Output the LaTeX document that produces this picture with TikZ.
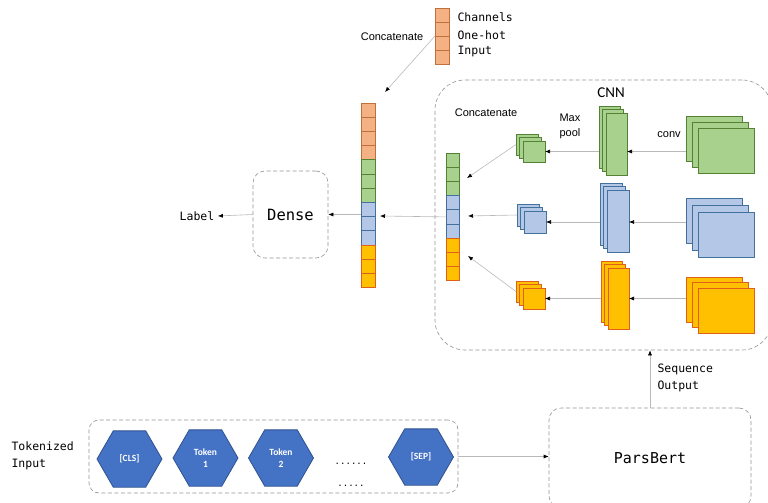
\documentclass[tikz,border=0pt]{standalone}
\usepackage{fontspec}
\setmainfont{Liberation Sans}
\setmonofont{DejaVu Sans Mono}
\newfontfamily\calfont{Carlito}
\usetikzlibrary{arrows,shapes.geometric}
\usepgflibrary{arrows.meta}
\definecolor{orfill}{HTML}{F4B183}
\definecolor{orline}{HTML}{C0703A}
\definecolor{grfill}{HTML}{A9D18E}
\definecolor{grline}{HTML}{548235}
\definecolor{blfill}{HTML}{B4C7E7}
\definecolor{blline}{HTML}{41719C}
\definecolor{yefill}{HTML}{FFC000}
\definecolor{yeline}{HTML}{E0601A}
\definecolor{hexfill}{HTML}{4472C4}
\definecolor{hexline}{HTML}{2F528F}
% three stacked feature maps: name, x, y, w, h, dx, dy, colours
\newcommand{\fmap}[8]{\foreach \j in {1,2,3}{\node[fm,#8,minimum width=#4,minimum height=#5,anchor=north west] (#1-\j) at ({#2+(\j-1)*#6},{#3+(\j-1)*#7}) {};}}

\begin{document}
\begin{tikzpicture}[x=1pt,y=-1pt,>={Latex[color=black,length=5pt,width=4pt]},
    cell/.style={draw,line width=0.8pt,minimum width=14,minimum height=14.2,inner sep=0,outer sep=0},
    fm/.style={draw,line width=0.8pt,inner sep=0,outer sep=0},
    dbox/.style={draw=gray!85,dash pattern=on 4pt off 2.5pt,rounded corners=12,line width=0.6pt,inner sep=0},
    arr/.style={draw=gray!55,line width=0.6pt},
    mono/.style={font=\ttfamily\fontsize{11.5}{17}\selectfont},
    sans/.style={font=\fontsize{11}{15}\selectfont},
    hex/.style={regular polygon,regular polygon sides=6,minimum size=65,inner sep=0,fill=hexfill,draw=hexline,line width=0.8pt,text=white,align=center,font=\calfont\bfseries\fontsize{9.5}{11.5}\selectfont}]
        \clip (0,0) rectangle (768,503);
        %boxes
        \node[dbox,rounded corners=30,minimum width=337,minimum height=270] (cnn) at (603.5,215) {};
        \node[dbox,minimum width=75,minimum height=87,font=\ttfamily\fontsize{15.5}{18}\selectfont] (dense) at (290.5,214.5) {Dense};
        \node[dbox,rounded corners=10,minimum width=369,minimum height=73] (tokbox) at (273.5,456.5) {};
        \node[dbox,minimum width=202,minimum height=100,font=\ttfamily\fontsize{15}{18}\selectfont] (pars) at (650,458) {ParsBert};
        %vectors
        \foreach \i in {0,...,3} \node[cell,fill=orfill,draw=orline,minimum height=14] (t\i) at (442,{15+14*\i}) {};
        \foreach \i in {0,...,3} \node[cell,fill=orfill,draw=orline] (m\i) at (368,{110.1+14.2*\i}) {};
        \foreach \i in {4,5,6} \node[cell,fill=grfill,draw=grline] (m\i) at (368,{110.1+14.2*\i}) {};
        \foreach \i in {7,8,9} \node[cell,fill=blfill,draw=blline] (m\i) at (368,{110.1+14.2*\i}) {};
        \foreach \i in {10,11,12} \node[cell,fill=yefill,draw=yeline] (m\i) at (368,{110.1+14.2*\i}) {};
        \foreach \i in {0,1,2} \node[cell,fill=grfill,draw=grline,minimum width=13] (k\i) at (452.5,{160.1+14.2*\i}) {};
        \foreach \i in {3,4,5} \node[cell,fill=blfill,draw=blline,minimum width=13] (k\i) at (452.5,{160.1+14.2*\i}) {};
        \foreach \i in {6,7,8} \node[cell,fill=yefill,draw=yeline,minimum width=13] (k\i) at (452.5,{160.1+14.2*\i}) {};
        %feature maps
        \fmap{gpool}{516}{134}{22}{21}{3.5}{3.5}{fill=grfill,draw=grline}
        \fmap{gconv}{599}{106}{21}{62}{3.5}{3.5}{fill=grfill,draw=grline}
        \fmap{gin}{686}{116}{56}{45}{6}{6}{fill=grfill,draw=grline}
        \fmap{bpool}{517}{204}{22}{22}{3.5}{3.5}{fill=blfill,draw=blline}
        \fmap{bconv}{600}{183}{22}{62}{3.5}{3.5}{fill=blfill,draw=blline}
        \fmap{bin}{686}{198}{56}{45}{6}{7}{fill=blfill,draw=blline}
        \fmap{ypool}{516}{281}{22}{21}{3.5}{3.5}{fill=yefill,draw=yeline}
        \fmap{yconv}{601}{261}{21}{61}{3.5}{3.5}{fill=yefill,draw=yeline}
        \fmap{yin}{686}{277}{56}{45}{6}{5.5}{fill=yefill,draw=yeline}
        %texts
        \node[sans] (cattxt) at (392,37) {Concatenate};
        \node[mono,anchor=west] (chan) at (454,17) {Channels};
        \node[mono,anchor=west] (onehot) at (454,35) {One-hot};
        \node[mono,anchor=west] (input) at (454,52) {Input};
        \node[font=\calfont\fontsize{15}{18}\selectfont] (cnntxt) at (611,93) {CNN};
        \node[sans] (cattxt2) at (486,113) {Concatenate};
        \node[sans,anchor=west,align=left] (pool) at (556,126) {Max\\pool};
        \node[sans] (conv) at (669,135) {conv};
        \node[mono] (label) at (197,216) {Label};
        \node[mono,anchor=west,align=left] (tokin) at (8,456) {Tokenized\\Input};
        \node[mono,anchor=west,align=left] (seqout) at (654,378) {Sequence\\Output};
        %tokens
        \node[hex] (cls) at (129.5,459) {[CLS]};
        \node[hex] (tok1) at (205.5,458) {Token\\1};
        \node[hex] (tok2) at (281,458) {Token\\2};
        \node[hex] (sep) at (421,457) {[SEP]};
        \node[font=\ttfamily\fontsize{9}{10}\selectfont] (dots1) at (351,464) {......};
        \node[font=\ttfamily\fontsize{9}{10}\selectfont] (dots2) at (351,486) {.....};
        %arrows
        \coordinate (catend) at (385,92);
        \coordinate (catin) at (380,216);
        \coordinate (kg) at (467,178);
        \coordinate (kb) at (468,216);
        \coordinate (ky) at (468,256);
        \draw [arr][->] (t2.north west) -- (catend);
        \draw [arr][->] (k4.west) -- (catin);
        \draw [arr][->] (m7.west |- dense.east) -- (dense.east);
        \draw [arr][->] (dense.west) -- (label.east);
        \draw [arr][->] (gin-1.west |- gpool-3) -- (gconv-3.east |- gpool-3);
        \draw [arr][->] (gconv-1.west |- gpool-3) -- (gpool-3.east);
        \draw [arr][->] (gpool-1.west) -- (kg);
        \draw [arr][->] (bin-1.west |- bpool-3) -- (bconv-3.east |- bpool-3);
        \draw [arr][->] (bconv-1.west |- bpool-3) -- (bpool-3.east);
        \draw [arr][->] (bpool-1.west) -- (kb);
        \draw [arr][->] (yin-1.west |- ypool-3) -- (yconv-3.east |- ypool-3);
        \draw [arr][->] (yconv-1.west |- ypool-3) -- (ypool-3.east);
        \draw [arr][->] (ypool-1.west) -- (ky);
        \draw [arr][->] (tokbox.east) -- (tokbox.east -| pars.west);
        \draw [arr][->] (pars.north) -- (pars.north |- cnn.south);
    \end{tikzpicture}
\end{document}
